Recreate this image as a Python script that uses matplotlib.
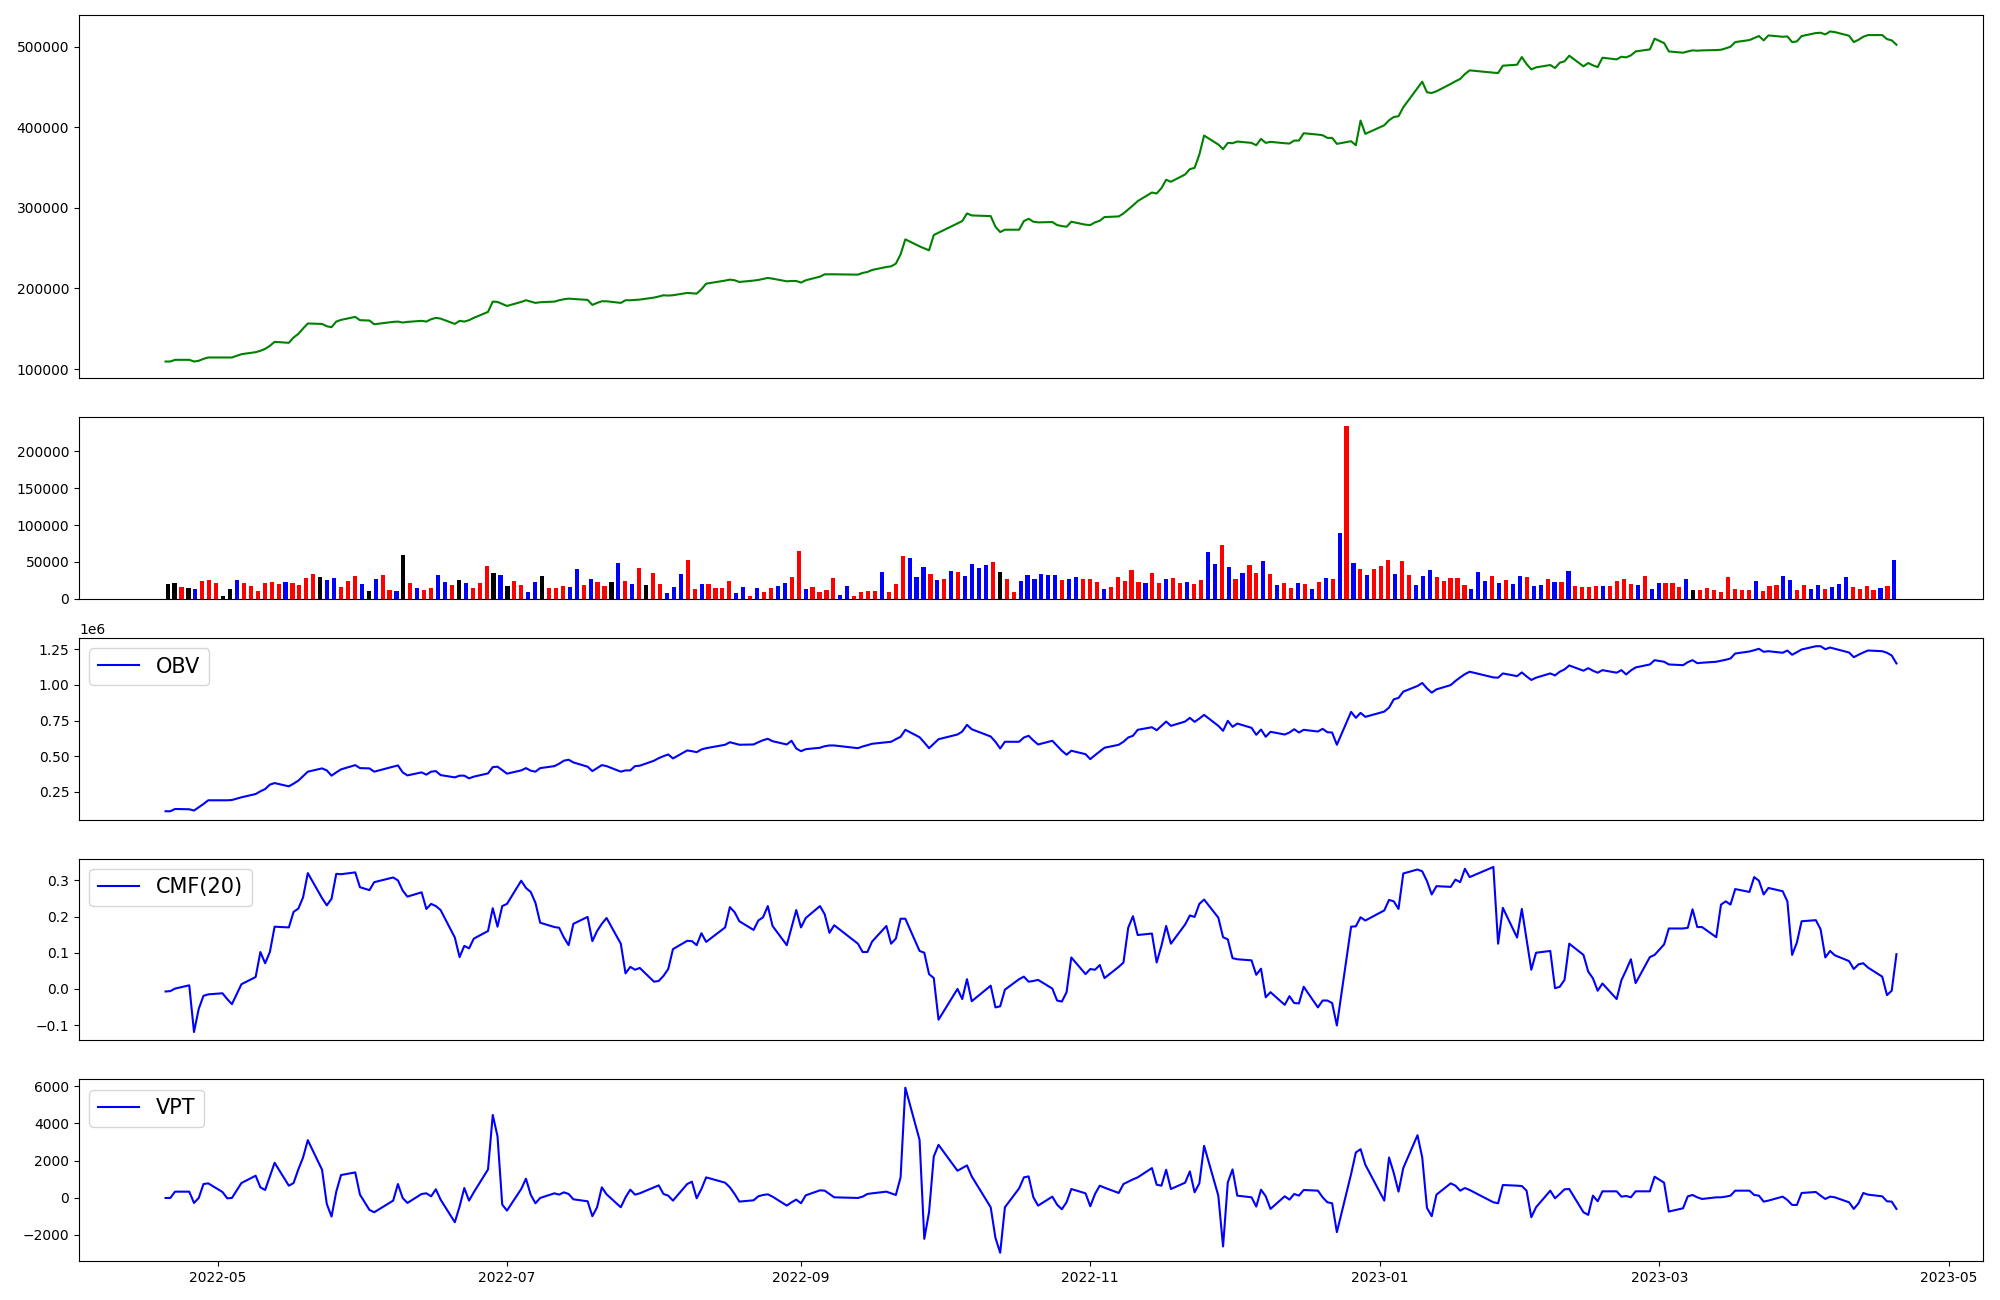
import numpy as np
import pandas as pd
import matplotlib
matplotlib.use("Agg")
import matplotlib.pyplot as plt

# KRX trading days shown in the chart (weekday market holidays removed)
krx_holidays = ["2022-05-05", "2022-06-01", "2022-06-06", "2022-08-15", "2022-09-09",
                "2022-09-12", "2022-10-03", "2022-10-10", "2022-12-30", "2023-01-23",
                "2023-01-24", "2023-03-01"]
dates = pd.bdate_range("2022-04-20", "2023-04-20", freq="C", holidays=krx_holidays)

close = [
    109300, 109300, 111400, 111400, 109300, 110200, 112600, 114300, 114300, 114300,
    114300, 118400, 120900, 122600, 125000, 128800, 133700, 132500, 139100, 143600,
    150300, 156500, 156000, 153100, 151900, 158900, 161000, 164700, 160600, 160200,
    155600, 158500, 158900, 157700, 158500, 159800, 158900, 161800, 163500, 162600,
    156000, 159800, 158900, 160600, 163500, 170900, 183700, 183300, 180800, 178300,
    183300, 185400, 183700, 182100, 182900, 183700, 185400, 186600, 187400, 187000,
    185800, 179600, 182100, 184100, 184100, 182100, 185400, 185400, 185800, 186200,
    188700, 190000, 191600, 191200, 191600, 194500, 194100, 193600, 199000, 206000,
    209800, 211000, 210200, 208100, 209800, 210600, 211800, 213100, 212200, 208900,
    209300, 209300, 207300, 210200, 214700, 217600, 217600, 217600, 217200, 219300,
    220500, 223000, 226700, 227500, 230800, 242400, 261000, 252300, 249800, 247400,
    266400, 269300, 280800, 283700, 293200, 290700, 289900, 276700, 270100, 273000,
    273000, 283700, 286600, 282900, 282100, 282500, 278800, 277500, 276700, 282900,
    279200, 278800, 282100, 284100, 288700, 289500, 293200, 298200, 303100, 308500,
    319200, 318000, 324600, 335000, 332500, 341600, 348200, 349800, 366300, 389900,
    378800, 373000, 380800, 380400, 382500, 380800, 377900, 385800, 380800, 382100,
    380400, 380000, 383700, 383700, 392800, 391100, 390300, 387000, 387000, 379600,
    382900, 377900, 408500, 392000, 402700, 408900, 413000, 413900, 425000, 449000,
    456800, 443600, 442800, 444900, 454000, 457300, 460200, 466300, 470900, 468000,
    467600, 476700, 477900, 487400, 478700, 472100, 474600, 477500, 473800, 480400,
    482100, 489100, 475900, 480000, 477100, 475000, 486600, 484500, 487800, 487000,
    489500, 494400, 496900, 510200, 504800, 494400, 492800, 494400, 495700, 495300,
    495700, 496100, 496500, 498200, 500200, 506000, 508500, 511000, 513500, 508100,
    514300, 512600, 513000, 506000, 506800, 513500, 517200, 517600, 515500, 519200,
    518400, 513900, 506000, 508900, 512600, 514700, 514700, 509700, 508100, 502700,
]

volume = [
    20300, 21700, 16300, 14900, 13600, 24400, 25800, 21700, 4100, 13600,
    25800, 21700, 17600, 10800, 21700, 23000, 20300, 23000, 21700, 19000,
    28500, 33900, 29800, 25800, 28500, 16300, 24400, 31200, 20300, 10800,
    27100, 32500, 12200, 10800, 59700, 21700, 14900, 12200, 14900, 32500,
    23000, 19000, 25800, 21700, 14900, 21700, 44700, 35300, 32500, 17600,
    24400, 19000, 9500, 23000, 31200, 14900, 14900, 17600, 16300, 40700,
    19000, 27100, 23000, 17600, 23000, 48800, 24400, 20300, 42000, 19000,
    35300, 20300, 8100, 16300, 33900, 52900, 13600, 20300, 20300, 14900,
    14900, 24400, 8100, 16300, 4100, 14900, 9500, 14900, 17600, 21700,
    29800, 65100, 13600, 16300, 9500, 12200, 28500, 5400, 17600, 4100,
    9500, 10800, 10800, 36600, 9500, 20300, 58300, 55600, 29800, 43400,
    33900, 25800, 27100, 38000, 36600, 31200, 47500, 42000, 46100, 50200,
    36600, 27100, 9500, 24400, 32500, 27100, 33900, 32500, 32500, 25800,
    27100, 29800, 27100, 27100, 23000, 13600, 16300, 29800, 24400, 39300,
    23000, 21700, 35300, 21700, 27100, 28500, 21700, 23000, 20300, 25800,
    63700, 47500, 73200, 43400, 27100, 35300, 46100, 35300, 51500, 33900,
    19000, 21700, 14900, 21700, 20300, 13600, 23000, 28500, 27100, 89500,
    234600, 48800, 40700, 32500, 40700, 44700, 52900, 33900, 51500, 32500,
    19000, 31200, 39300, 29800, 24400, 28500, 28500, 19000, 13600, 36600,
    24400, 31200, 21700, 25800, 20300, 31200, 29800, 17600, 19000, 27100,
    23000, 23000, 38000, 17600, 16300, 16300, 17600, 17600, 17600, 24400,
    27100, 20300, 19000, 31200, 13600, 21700, 21700, 21700, 16300, 27100,
    12200, 12200, 14900, 12200, 9500, 29800, 13600, 12200, 12200, 24400,
    10800, 17600, 19000, 31200, 25800, 12200, 19000, 13600, 19000, 13600,
    16300, 20300, 29800, 16300, 13600, 17600, 12200, 14900, 17600, 52900,
]

# r = red, b = blue, k = black, one letter per bar
bar_color_codes = (
    "kkrkbrrrkk" "brrrrrrbrr" "rrkbbrrrbk" "brrbkrbrrb" "brkbrrrkbk"
    "rrbbkrrrbb" "rbrrkbrbrk" "rrbbbrrbrr" "rrbbrbrrbb" "rrbrrrrbbr"
    "rrrbrrrbbb" "rbrbrbbbbr" "krrbbbbbbr" "bbrrrbrrrr" "rbrrbrrbrr"
    "bbrbrbrrbr" "brrbrbrbrb" "rbrbrrrbrr" "bbbrrrrrbb" "brbrbbrbbr"
    "brbrrrrbrr" "rrbrbbrrrb" "krrrrrrrrb" "rrrbbrrbbr" "bbbrrrrbrb"
)

obv_millions = [
    0.113, 0.113, 0.129, 0.127, 0.118, 0.141, 0.164, 0.190, 0.190, 0.190,
    0.192, 0.211, 0.234, 0.253, 0.269, 0.300, 0.311, 0.288, 0.307, 0.328,
    0.360, 0.391, 0.414, 0.400, 0.363, 0.386, 0.407, 0.437, 0.416, 0.414,
    0.391, 0.426, 0.435, 0.386, 0.365, 0.386, 0.370, 0.391, 0.395, 0.367,
    0.351, 0.363, 0.363, 0.344, 0.356, 0.379, 0.423, 0.426, 0.402, 0.377,
    0.400, 0.416, 0.398, 0.391, 0.416, 0.430, 0.447, 0.468, 0.475, 0.456,
    0.426, 0.395, 0.416, 0.437, 0.430, 0.391, 0.400, 0.400, 0.430, 0.433,
    0.468, 0.486, 0.500, 0.512, 0.484, 0.540, 0.535, 0.528, 0.547, 0.556,
    0.580, 0.598, 0.589, 0.580, 0.582, 0.598, 0.612, 0.622, 0.605, 0.582,
    0.608, 0.554, 0.535, 0.549, 0.559, 0.570, 0.575, 0.575, 0.556, 0.568,
    0.577, 0.587, 0.598, 0.601, 0.619, 0.636, 0.685, 0.633, 0.596, 0.556,
    0.587, 0.619, 0.652, 0.673, 0.720, 0.689, 0.638, 0.601, 0.554, 0.601,
    0.601, 0.631, 0.643, 0.610, 0.582, 0.608, 0.573, 0.538, 0.510, 0.538,
    0.514, 0.479, 0.507, 0.533, 0.559, 0.580, 0.601, 0.631, 0.643, 0.685,
    0.703, 0.682, 0.713, 0.743, 0.713, 0.743, 0.769, 0.741, 0.764, 0.790,
    0.713, 0.678, 0.748, 0.706, 0.729, 0.699, 0.650, 0.687, 0.636, 0.671,
    0.652, 0.666, 0.689, 0.666, 0.685, 0.673, 0.692, 0.668, 0.666, 0.580,
    0.811, 0.769, 0.804, 0.776, 0.813, 0.841, 0.899, 0.909, 0.953, 0.993,
    1.014, 0.976, 0.946, 0.969, 0.999, 1.028, 1.053, 1.076, 1.093, 1.053,
    1.051, 1.081, 1.062, 1.088, 1.060, 1.035, 1.051, 1.081, 1.067, 1.093,
    1.109, 1.137, 1.100, 1.118, 1.100, 1.086, 1.104, 1.086, 1.104, 1.074,
    1.102, 1.123, 1.144, 1.174, 1.163, 1.144, 1.139, 1.160, 1.174, 1.153,
    1.156, 1.163, 1.170, 1.177, 1.186, 1.221, 1.235, 1.244, 1.254, 1.233,
    1.237, 1.226, 1.242, 1.212, 1.230, 1.249, 1.272, 1.272, 1.251, 1.263,
    1.254, 1.228, 1.195, 1.212, 1.228, 1.242, 1.237, 1.226, 1.207, 1.151,
]

cmf20 = [
    -0.007, -0.006, 0.001, 0.010, -0.119, -0.055, -0.019, -0.015, -0.012, -0.028,
    -0.042, 0.013, 0.033, 0.102, 0.071, 0.102, 0.172, 0.170, 0.213, 0.222,
    0.253, 0.320, 0.251, 0.231, 0.249, 0.318, 0.317, 0.322, 0.281, 0.273,
    0.295, 0.308, 0.300, 0.272, 0.255, 0.267, 0.221, 0.235, 0.229, 0.218,
    0.142, 0.088, 0.119, 0.112, 0.139, 0.160, 0.223, 0.172, 0.229, 0.235,
    0.299, 0.279, 0.268, 0.238, 0.183, 0.171, 0.169, 0.142, 0.121, 0.180,
    0.199, 0.132, 0.160, 0.180, 0.196, 0.125, 0.043, 0.061, 0.053, 0.058,
    0.020, 0.022, 0.036, 0.055, 0.110, 0.133, 0.132, 0.121, 0.154, 0.130,
    0.170, 0.226, 0.212, 0.187, 0.163, 0.189, 0.198, 0.229, 0.174, 0.121,
    0.169, 0.218, 0.170, 0.196, 0.229, 0.206, 0.155, 0.176, 0.125, 0.102,
    0.102, 0.131, 0.174, 0.125, 0.139, 0.194, 0.194, 0.105, 0.100, 0.041,
    0.030, -0.085, 0.000, -0.028, 0.027, -0.034, 0.009, -0.051, -0.048, -0.002,
    0.027, 0.034, 0.020, 0.022, 0.025, 0.001, -0.032, -0.035, -0.009, 0.087,
    0.041, 0.055, 0.053, 0.066, 0.030, 0.061, 0.073, 0.169, 0.201, 0.149,
    0.153, 0.073, 0.119, 0.174, 0.125, 0.178, 0.203, 0.199, 0.235, 0.247,
    0.197, 0.143, 0.137, 0.085, 0.082, 0.079, 0.039, 0.056, -0.023, -0.009,
    -0.044, -0.020, -0.039, -0.040, 0.006, -0.051, -0.032, -0.032, -0.039, -0.101,
    0.172, 0.173, 0.198, 0.189, 0.217, 0.246, 0.242, 0.221, 0.319, 0.330,
    0.325, 0.298, 0.261, 0.284, 0.282, 0.302, 0.295, 0.332, 0.309, 0.337,
    0.125, 0.224, 0.142, 0.221, 0.137, 0.053, 0.100, 0.105, 0.002, 0.006,
    0.025, 0.125, 0.094, 0.048, 0.029, -0.005, 0.015, -0.028, 0.024, 0.052,
    0.082, 0.016, 0.088, 0.094, 0.123, 0.167, 0.167, 0.169, 0.220, 0.171,
    0.171, 0.143, 0.233, 0.242, 0.233, 0.276, 0.268, 0.309, 0.299, 0.261,
    0.279, 0.270, 0.242, 0.094, 0.128, 0.187, 0.190, 0.165, 0.087, 0.105,
    0.093, 0.077, 0.055, 0.068, 0.071, 0.059, 0.034, -0.017, -0.005, 0.096,
]

vpt = [
    -14, -14, 325, 325, -282, -14, 736, 772, 308, -32,
    -14, 790, 1183, 558, 415, 1147, 1880, 647, 790, 1523,
    2166, 3096, 1505, -336, -1015, 325, 1219, 1363, 165, -658,
    -783, -157, 736, -14, -282, 200, 236, 75, 451, -103,
    -1319, -479, 522, -157, 290, 1523, 4454, 3310, -372, -693,
    468, 1022, 165, -300, -14, 236, 165, 290, 200, -86,
    -193, -997, -515, 558, 182, -515, 21, 433, 165, 236,
    558, 665, 200, 111, -157, 736, 862, -32, 468, 1094,
    808, 558, 200, -211, -140, 75, 147, 182, 57, -425,
    -247, -103, -300, 128, 397, 379, 200, 21, -14, 57,
    200, 236, 325, 236, 147, 1094, 5920, 3114, -2213, -783,
    2220, 2845, 1451, 1594, 1737, 1147, -515, -2159, -2963, -515,
    504, 1094, 1147, 21, -425, 57, -372, -622, -247, 468,
    236, -461, 200, 647, 540, 254, 736, 862, 987, 1094,
    1594, 701, 647, 1505, 468, 808, 1416, 290, 772, 2792,
    111, -2624, 826, 1523, 111, 21, -479, 433, 75, -604,
    75, -103, 200, 111, 415, 379, 21, -247, -300, -1855,
    1273, 2434, 2613, 1773, -157, 2166, 1326, 325, 1594, 3364,
    2166, -550, -997, 165, 772, 647, 379, 522, 415, -247,
    -300, 683, 647, 629, 379, -1051, -515, 379, -32, 200,
    451, 468, -783, -926, 111, -193, 343, 343, 57, 93,
    21, 343, 343, 1130, 808, -747, -568, 75, 147, 21,
    -68, 21, 21, 57, 111, 379, 379, 147, 111, -211,
    -157, 57, -122, -390, -390, 254, 307, 111, -68, 57,
    21, -247, -604, -300, 254, 165, 75, -193, -211, -604,
]

n = len(dates)
for name, arr in [("close", close), ("volume", volume), ("colors", bar_color_codes),
                  ("obv", obv_millions), ("cmf", cmf20), ("vpt", vpt)]:
    assert len(arr) == n, f"{name}: {len(arr)} values for {n} dates"

color_map = {"r": "red", "b": "blue", "k": "black"}
bar_colors = [color_map[c] for c in bar_color_codes]
obv = np.array(obv_millions) * 1e6

fig = plt.figure(figsize=(20, 13), dpi=100)
gs = fig.add_gridspec(5, 1, height_ratios=[2, 1, 1, 1, 1],
                      left=0.0395, right=0.9915, top=0.9885, bottom=0.030, hspace=0.18)
ax_price = fig.add_subplot(gs[0])
ax_vol = fig.add_subplot(gs[1])
ax_obv = fig.add_subplot(gs[2])
ax_cmf = fig.add_subplot(gs[3])
ax_vpt = fig.add_subplot(gs[4])

ax_price.plot(dates, close, color="green")
ax_price.set_xticks([])

ax_vol.bar(np.arange(n), volume, color=bar_colors, width=0.6)
ax_vol.set_xticks([])

ax_obv.plot(dates, obv, color="blue", label="OBV")
ax_obv.legend(loc="upper left", fontsize=15)
ax_obv.set_xticks([])

ax_cmf.plot(dates, cmf20, color="blue", label="CMF(20)")
ax_cmf.legend(loc="upper left", fontsize=15)
ax_cmf.set_xticks([])

ax_vpt.plot(dates, vpt, color="blue", label="VPT")
ax_vpt.legend(loc="upper left", fontsize=15)

fig.savefig("out.png", dpi=100)
